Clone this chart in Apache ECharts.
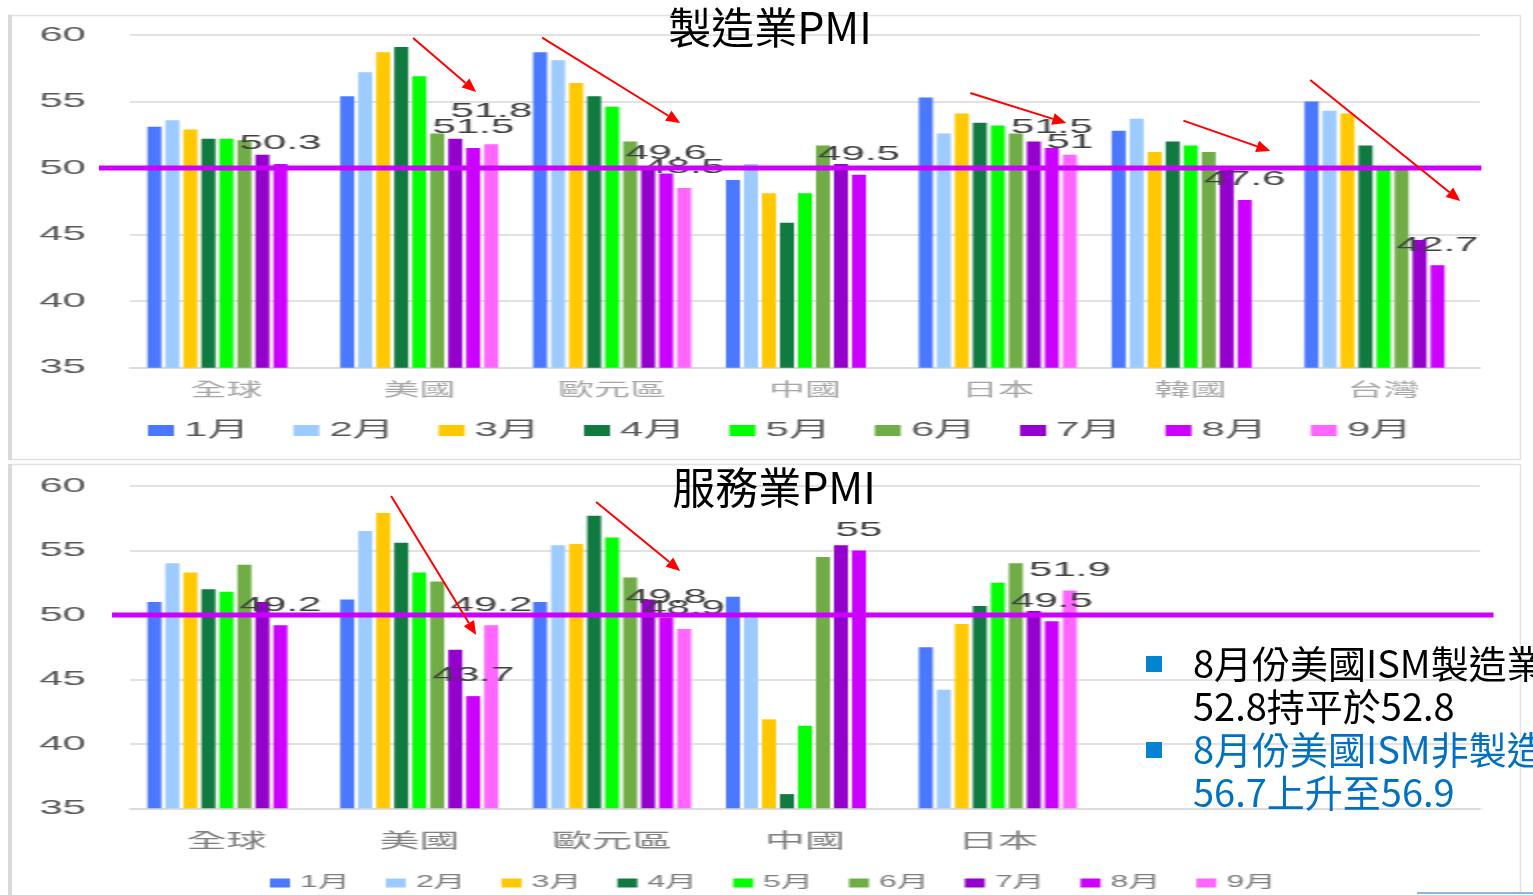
<!DOCTYPE html>
<html>
<head>
<meta charset="utf-8">
<script src="https://cdn.jsdelivr.net/npm/echarts@6/dist/echarts.min.js"></script>
<style>
  html, body { margin: 0; padding: 0; background: #fff; overflow: hidden; }
  #page { position: relative; width: 1533px; height: 895px; overflow: hidden; }
  /* bar panels are laid out at half width and widened 2x, giving the broad glyphs of the slide */
  #bars { position: absolute; left: 0; top: 0; width: 767px; height: 895px; transform: scaleX(2); transform-origin: 0 0; }
  #notes { position: absolute; left: 0; top: 0; width: 1533px; height: 895px; pointer-events: none; }
</style>
</head>
<body>
<div id="page"><div id="bars"></div><div id="notes"></div></div>
<script>
// ---- data ----
const months = ['1月', '2月', '3月', '4月', '5月', '6月', '7月', '8月', '9月'];
const mfgCategories = ['全球', '美國', '歐元區', '中國', '日本', '韓國', '台灣'];
const svcCategories = ['全球', '美國', '歐元區', '中國', '日本'];
const yTicks = [35, 40, 45, 50, 55, 60];
const threshold = 50;

// 製造業PMI, one array per month, ordered as mfgCategories
const mfgM1 = [53.1, 55.4, 58.7, 49.1, 55.3, 52.8, 55.0];
const mfgM2 = [53.6, 57.2, 58.1, 50.3, 52.6, 53.7, 54.3];
const mfgM3 = [52.9, 58.7, 56.4, 48.1, 54.1, 51.2, 54.1];
const mfgM4 = [52.2, 59.1, 55.4, 45.9, 53.4, 52.0, 51.7];
const mfgM5 = [52.2, 56.9, 54.6, 48.1, 53.2, 51.7, 49.9];
const mfgM6 = [52.1, 52.6, 52.0, 51.7, 52.6, 51.2, 49.9];
const mfgM7 = [51.0, 52.2, 49.9, 50.3, 52.0, 49.9, 44.6];
const mfgM8 = [50.3, 51.5, 49.6, 49.5, 51.5, 47.6, 42.7];
const mfgM9 = [null, 51.8, 48.5, null, 51.0, null, null];

// 服務業PMI, one array per month, ordered as svcCategories
const svcM1 = [51.0, 51.2, 51.0, 51.4, 47.5];
const svcM2 = [54.0, 56.5, 55.4, 50.2, 44.2];
const svcM3 = [53.3, 57.9, 55.5, 41.9, 49.3];
const svcM4 = [52.0, 55.6, 57.7, 36.1, 50.7];
const svcM5 = [51.8, 53.3, 56.0, 41.4, 52.5];
const svcM6 = [53.9, 52.6, 52.9, 54.5, 54.0];
const svcM7 = [51.0, 47.3, 51.2, 55.4, 50.3];
const svcM8 = [49.2, 43.7, 49.8, 55.0, 49.5];
const svcM9 = [null, 49.2, 48.9, null, 51.9];

// trend arrows: [x in category units from the plot's left edge, PMI value] -> same
const mfgArrows = [
  [[1.468, 59.77], [1.795, 55.71]],
  [[2.137, 59.80], [2.853, 53.38]],
  [[4.357, 55.64], [4.855, 53.38]],
  [[5.462, 53.57], [5.913, 51.28]],
  [[6.120, 56.62], [6.898, 47.52]]
];
const svcArrows = [
  [[1.354, 59.23], [1.795, 48.44]],
  [[2.417, 58.76], [2.853, 53.41]]
];

const noteLines = [
  { text: '8月份美國ISM製造業', color: '#000000', bullet: true },
  { text: '52.8持平於52.8', color: '#000000', bullet: false },
  { text: '8月份美國ISM非製造業', color: '#0070c0', bullet: true },
  { text: '56.7上升至56.9', color: '#0070c0', bullet: false }
];

// ---- styles ----
const palette = ['#4a78ff', '#9dcbff', '#ffc800', '#117a41', '#00ff00', '#70ad47', '#9400cc', '#cc00ff', '#ff66ff'];
const LATIN = "'Liberation Sans', 'Noto Sans CJK TC', sans-serif";
const CJK = "'Noto Sans CJK TC', 'Noto Sans CJK SC', sans-serif";
const mfgSeriesData = [mfgM1, mfgM2, mfgM3, mfgM4, mfgM5, mfgM6, mfgM7, mfgM8, mfgM9];
const svcSeriesData = [svcM1, svcM2, svcM3, svcM4, svcM5, svcM6, svcM7, svcM8, svcM9];
const labelled = ['8月', '9月'];
const plotHeights = [332.7, 322.3];

function barSeries(values, i, g) {
  const s = {
    type: 'bar', name: months[i], xAxisIndex: g, yAxisIndex: g,
    data: values, barWidth: 7, barGap: '28.6%',
    itemStyle: { color: palette[i] },
    label: {
      show: labelled.includes(months[i]), position: 'top', distance: 10,
      fontSize: 21, fontFamily: LATIN, color: '#404040'
    },
    emphasis: { disabled: true },
    silent: true
  };
  if (i === months.length - 1) {
    // keep the last month's label clear of the previous month's label when the bars are close
    const prevValues = g === 0 ? mfgM8 : svcM8;
    const unitPx = plotHeights[g] / (yTicks[yTicks.length - 1] - yTicks[0]);
    s.labelLayout = function (p) {
      const cur = values[p.dataIndex], prev = prevValues[p.dataIndex];
      if (cur != null && prev != null && Math.abs(cur - prev) * unitPx < 10) {
        return { dy: cur > prev ? -12 : 8 };
      }
      return {};
    };
  }
  return s;
}

function yAxis(g) {
  return {
    type: 'value', gridIndex: g,
    min: yTicks[0], max: yTicks[yTicks.length - 1], interval: yTicks[1] - yTicks[0],
    axisLabel: { fontSize: 21, color: '#595959', margin: 22, fontFamily: LATIN },
    splitLine: { lineStyle: { color: '#d9d9d9', width: 1.5 } },
    axisLine: { show: false }, axisTick: { show: false }
  };
}

function xAxis(g, cats, size, color, margin) {
  return {
    type: 'category', gridIndex: g, data: cats,
    axisLine: { lineStyle: { color: '#d9d9d9', width: 1.5 } },
    axisTick: { show: false },
    axisLabel: { interval: 0, fontSize: size, color: color, margin: margin, fontFamily: CJK }
  };
}

const bars = echarts.init(document.getElementById('bars'));
bars.setOption({
  animation: false,
  backgroundColor: '#ffffff',
  grid: [
    { left: 65, top: 35, width: 675, height: plotHeights[0] },
    { left: 65, top: 486, width: 675, height: plotHeights[1] }
  ],
  // the services panel keeps two empty slots where the notes sit
  xAxis: [
    xAxis(0, mfgCategories, 18, '#a6a6a6', 12),
    xAxis(1, svcCategories.concat(['', '']), 20, '#808080', 22)
  ],
  yAxis: [yAxis(0), yAxis(1)],
  legend: [
    { data: months, left: 74, top: 420, padding: 0, icon: 'rect', itemWidth: 13, itemHeight: 11, itemGap: 22,
      selectedMode: false, textStyle: { fontSize: 21, color: '#595959', fontFamily: LATIN } },
    { data: months, left: 135, top: 875, padding: 0, icon: 'rect', itemWidth: 10, itemHeight: 9, itemGap: 18,
      selectedMode: false, textStyle: { fontSize: 16, color: '#7f7f7f', fontFamily: LATIN } }
  ],
  series: mfgSeriesData.map((d, i) => barSeries(d, i, 0))
    .concat(svcSeriesData.map((d, i) => barSeries(d, i, 1)))
});

// ---- overlay: titles, 50 lines, arrows, notes (page coordinates) ----
const STRETCH = 2;
function toPage(g, c, v) {
  const a = bars.convertToPixel({ gridIndex: g }, [0, v]);
  const b = bars.convertToPixel({ gridIndex: g }, [1, v]);
  const catW = b[0] - a[0];
  const left = a[0] - catW / 2;
  return [(left + c * catW) * STRETCH, a[1]];
}

function arrow(g, from, to) {
  const p0 = toPage(g, from[0], from[1]);
  const p1 = toPage(g, to[0], to[1]);
  const dx = p1[0] - p0[0], dy = p1[1] - p0[1];
  const len = Math.sqrt(dx * dx + dy * dy);
  const ux = dx / len, uy = dy / len;
  const L = 14, W = 6;
  const bx = p1[0] - ux * L, by = p1[1] - uy * L;
  return [
    { type: 'line', z: 20, shape: { x1: p0[0], y1: p0[1], x2: bx, y2: by },
      style: { stroke: '#ff0000', lineWidth: 2 } },
    { type: 'polygon', z: 20,
      shape: { points: [[p1[0], p1[1]], [bx - uy * W, by + ux * W], [bx + uy * W, by - ux * W]] },
      style: { fill: '#ff0000' } }
  ];
}

function thresholdLine(g, c0, c1) {
  const a = toPage(g, c0, threshold);
  const b = toPage(g, c1, threshold);
  return { type: 'line', z: 15, shape: { x1: a[0], y1: a[1], x2: b[0], y2: b[1] },
    style: { stroke: '#cc00ff', lineWidth: 5 } };
}

const frames = [
  { type: 'rect', z: 1, shape: { x: 9.5, y: 15.5, width: 1511, height: 444 }, style: { fill: null, stroke: '#e3e3e3', lineWidth: 1.5 } },
  { type: 'rect', z: 1, shape: { x: 9.5, y: 464.5, width: 1511, height: 440 }, style: { fill: null, stroke: '#e3e3e3', lineWidth: 1.5 } },
  { type: 'rect', z: 1, shape: { x: 8, y: 15, width: 4, height: 445 }, style: { fill: '#d9d9d9' } },
  { type: 'rect', z: 1, shape: { x: 8, y: 464, width: 4, height: 431 }, style: { fill: '#d9d9d9' } },
  { type: 'line', z: 1, shape: { x1: 1417, y1: 893, x2: 1533, y2: 893 }, style: { stroke: '#8fb4dc', lineWidth: 2 } }
];

const titles = [
  { type: 'text', z: 30, style: { text: '製造業PMI', x: 770, y: 28, align: 'center', verticalAlign: 'middle',
      font: '43px ' + CJK, fill: '#000000' } },
  { type: 'text', z: 30, style: { text: '服務業PMI', x: 774, y: 488, align: 'center', verticalAlign: 'middle',
      font: '43px ' + CJK, fill: '#000000' } }
];

const notes = [];
noteLines.forEach((ln, k) => {
  const y = 664 + k * 43;
  if (ln.bullet) {
    notes.push({ type: 'rect', z: 30, shape: { x: 1146, y: y - 8, width: 16, height: 16 }, style: { fill: '#0284d0' } });
  }
  notes.push({ type: 'text', z: 30, style: { text: ln.text, x: 1193, y: y, align: 'left', verticalAlign: 'middle',
    font: '38px ' + CJK, fill: ln.color } });
});

let overlay = frames.concat([thresholdLine(0, -0.161, 7.007), thresholdLine(1, -0.093, 7.07)]);
mfgArrows.forEach(a => { overlay = overlay.concat(arrow(0, a[0], a[1])); });
svcArrows.forEach(a => { overlay = overlay.concat(arrow(1, a[0], a[1])); });
overlay = overlay.concat(titles, notes);

const noteChart = echarts.init(document.getElementById('notes'));
noteChart.setOption({ animation: false, graphic: overlay });
</script>
</body>
</html>
